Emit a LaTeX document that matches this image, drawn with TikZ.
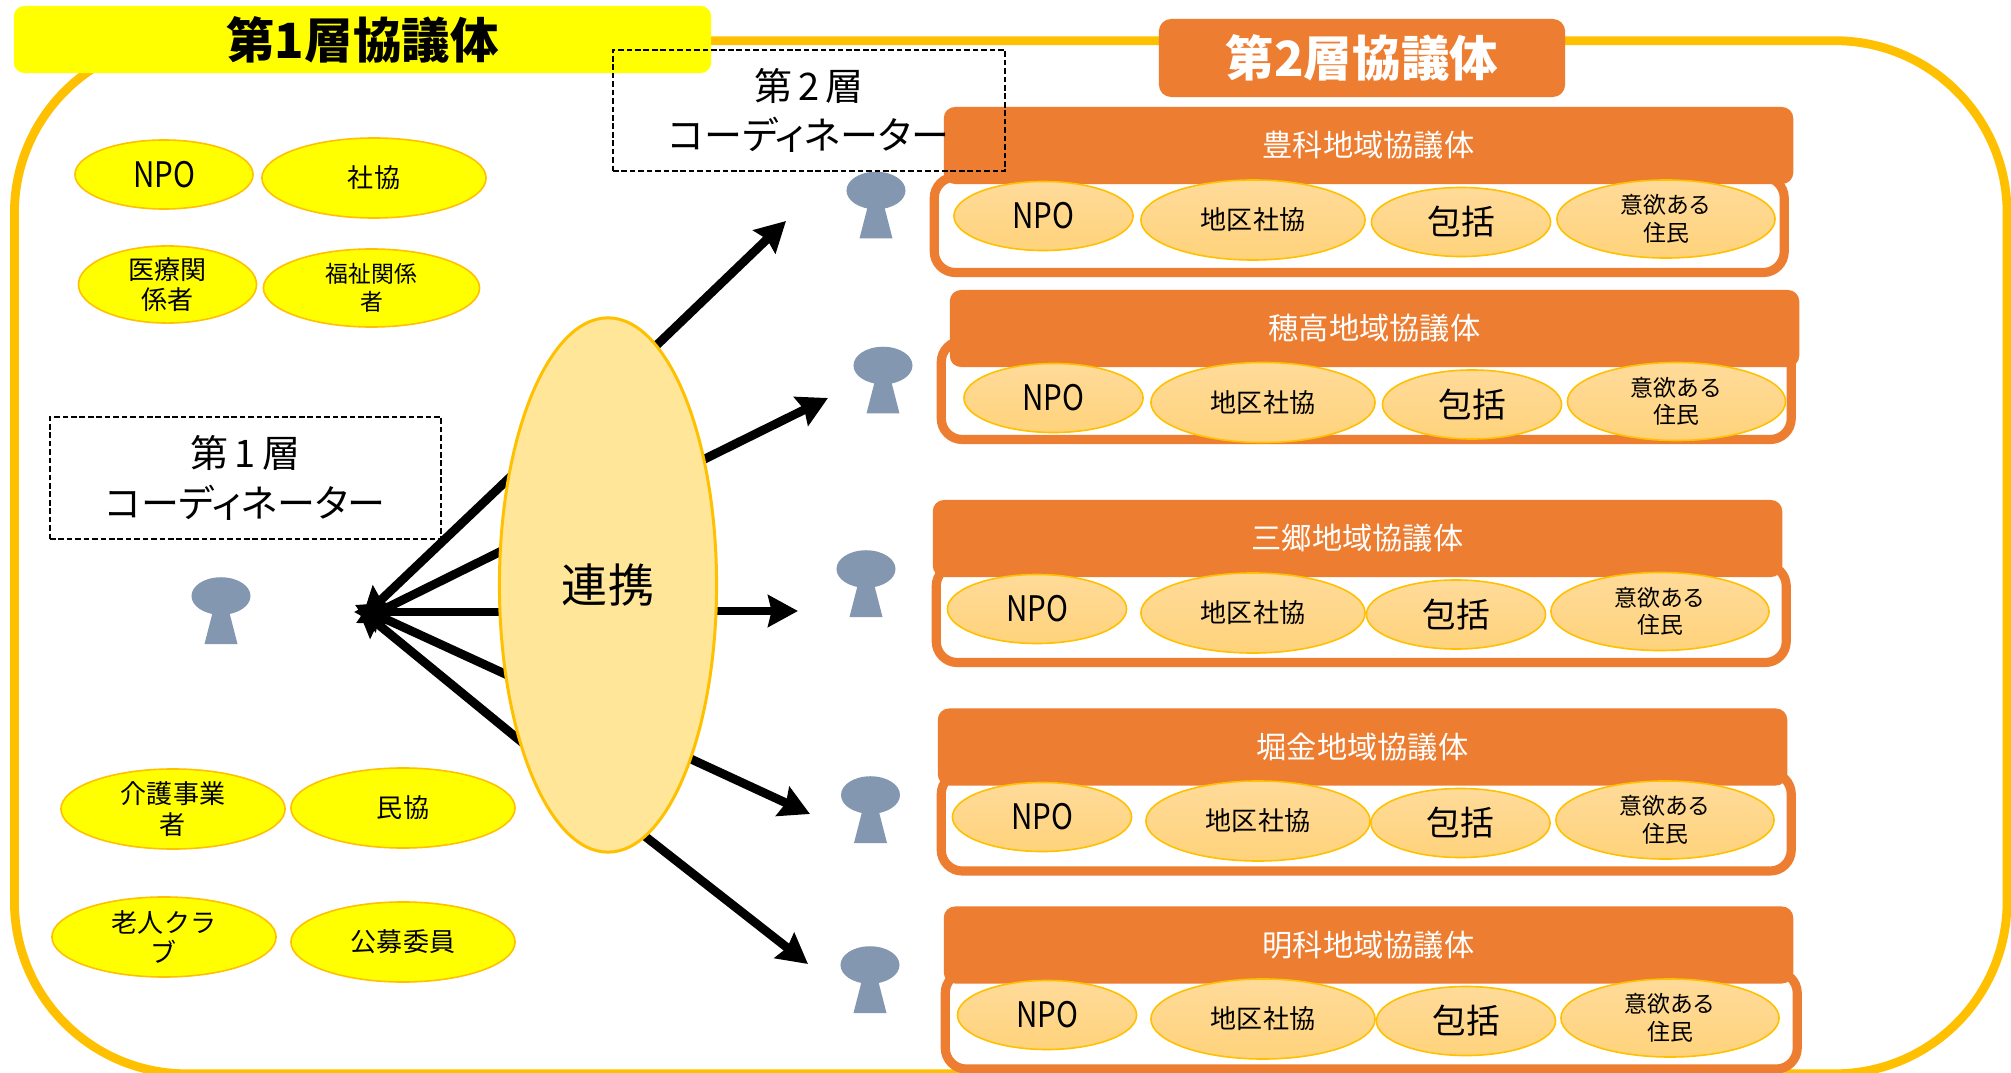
\documentclass[tikz,border=0pt]{standalone}
\usepackage{fontspec}
\usetikzlibrary{arrows.meta,shapes.geometric}
\setmainfont{Noto Sans CJK JP}
\newfontfamily\jp{Noto Sans CJK JP}
\newfontfamily\jpp[RawFeature=+palt]{Noto Sans CJK JP}
\newfontfamily\jpn[FakeStretch=0.84]{Noto Sans CJK JP}
\definecolor{gold}{HTML}{FFC000}
\definecolor{orng}{HTML}{ED7D31}
\definecolor{slate}{HTML}{8497B0}
\definecolor{cream}{HTML}{FFE699}
\definecolor{pureyellow}{HTML}{FFFF00}
\definecolor{creamtop}{HTML}{FFDB9A}
\definecolor{creambot}{HTML}{FFD37C}
\tikzset{
  every node/.style={inner sep=0pt,outer sep=0pt},
  outerframe/.style={draw=gold,line width=2.5pt,fill=white,rounded corners=49pt},
  titleyellow/.style={fill=pureyellow,rounded corners=3pt,font=\jp\bfseries\fontsize{13.8}{16}\selectfont},
  titleorange/.style={fill=orng,rounded corners=3.5pt,text=white,font=\jp\bfseries\fontsize{13.8}{16}\selectfont},
  groupframe/.style={draw=orng,line width=2.6pt,fill=white,rounded corners=6pt},
  grouphead/.style={fill=orng,rounded corners=3.2pt,text=white,font=\jp\fontsize{8.6}{10}\selectfont},
  ovalshape/.style={ellipse,align=center},
  yellowoval/.style={ovalshape,draw=gold,line width=0.45pt,fill=pureyellow},
  creamoval/.style={ovalshape,draw=gold,line width=0.45pt,top color=creamtop,bottom color=creambot},
  bigoval/.style={ovalshape,draw=gold,line width=0.85pt,fill=cream,font=\jp\fontsize{13.1}{15}\selectfont},
  tnpo/.style={font=\jpn\fontsize{10}{12}\selectfont},
  tsm/.style={font=\jp\fontsize{7.4}{8.7}\selectfont},
  txs/.style={font=\jp\fontsize{6.5}{7.8}\selectfont},
  tlg/.style={font=\jp\fontsize{9.6}{11}\selectfont},
  dashbox/.style={draw=black,line width=0.45pt,dash pattern=on 1.6pt off 0.8pt},
  coordtext/.style={align=center,font=\jpp\fontsize{10.8}{14}\selectfont},
  linker/.style={draw=black,line width=2.5pt,-{Stealth[length=8.5pt,width=9pt,inset=1pt]}},
  personfill/.style={fill=slate},
}
% box from corners (px)
\newcommand\pxbox[7]{\node[#2,minimum width={(#5-#3)*0.28453pt},minimum height={(#6-#4)*0.28453pt}] (#1) at ({(#3+#5)/2},{(#4+#6)/2}) {#7};}
% oval from centre and radii (px)
\newcommand\pxoval[7]{\node[#2,minimum width={2*#5*0.28453pt},minimum height={2*#6*0.28453pt}] (#1) at (#3,#4) {#7};}
\newcommand\person[3]{%
  \fill[personfill] (#2-8,#3+15) -- (#2+8,#3+15) -- (#2+16.5,#3+48) -- (#2-16.5,#3+48) -- cycle;
  \node[ellipse,personfill,minimum width={59*0.28453pt},minimum height={37.5*0.28453pt}] (#1) at (#2,#3) {};}
% name, title, frame x0 y0 x1 y1, head x0 y0, then four centres
\newcommand\grp[9]{%
  \pxbox{#1f}{groupframe}{#3}{#4}{#5}{#6}{}
  \pxbox{#1h}{grouphead}{#7}{#8}{#7+849}{#8+77}{#2}
  \def\gname{#1}\grpB#9}
\newcommand\grpB[8]{%
  \pxoval{\gname a}{creamoval,tnpo}{#1}{#2}{89.5}{34.5}{NPO}
  \pxoval{\gname b}{creamoval,tsm}{#3}{#4}{112}{40}{地区社協}
  \pxoval{\gname c}{creamoval,tlg}{#5}{#6}{89.5}{34.5}{包括}
  \pxoval{\gname d}{creamoval,txs}{#7}{#8}{109}{39}{意欲ある\\住民}}
\begin{document}
\begin{tikzpicture}[x=0.01cm,y=-0.01cm]
\useasboundingbox (0,0) rectangle (2011,1073);
\fill[white] (0,0) rectangle (2011,1073);
\pxbox{outer}{outerframe}{15}{41}{2006.5}{1073.5}{}
\pxbox{t1}{titleyellow}{14}{6}{711}{73}{第1層協議体}
\pxbox{t2}{titleorange}{1159}{19}{1565}{97}{第2層協議体}

\grp{ga}{豊科地域協議体}{934.5}{177}{1784}{272.5}{944}{107}{{1043.5}{216}{1253}{220}{1461}{222}{1666}{219}}
\grp{gb}{穂高地域協議体}{941.5}{341}{1791}{439.5}{950}{290}{{1053.5}{398}{1263}{402.5}{1472}{404.5}{1676.5}{401.5}}
\grp{gc}{三郷地域協議体}{936.5}{565}{1786}{662.5}{933}{500}{{1037}{609}{1253}{613}{1456}{614.5}{1660}{611.5}}
\grp{gd}{堀金地域協議体}{941.5}{773}{1791}{871}{938}{708.5}{{1042}{817}{1258}{821}{1460.5}{823}{1665}{820}}
\grp{ge}{明科地域協議体}{945.5}{972}{1797}{1069}{944}{906.5}{{1047}{1015}{1263}{1019}{1466}{1021}{1670}{1018}}

\person{p0}{221}{596}
\person{p1}{876}{190.5}
\person{p2}{883}{365.5}
\person{p3}{866}{569}
\person{p4}{870.5}{795}
\person{p5}{870}{965}

\coordinate (hub1) at (362,618);
\coordinate (hub2) at (356,623);
\coordinate (hub3) at (354,612);
\coordinate (hub4) at (355,605);
\coordinate (hub5) at (357,607);
\coordinate (ls1) at (545,444);
\coordinate (ls2) at (540,532);
\coordinate (ls3) at (540,612);
\coordinate (ls4) at (540,690);
\coordinate (ls5) at (540,757);
\coordinate (rs1) at (610,390);
\coordinate (rs2) at (640,491);
\coordinate (rs3) at (640,611);
\coordinate (rs4) at (640,735.5);
\coordinate (rs5) at (600,801);
\coordinate (rt1) at (786,221);
\coordinate (rt2) at (828,398);
\coordinate (rt3) at (798,611);
\coordinate (rt4) at (810,814);
\coordinate (rt5) at (808,964);
\foreach \i in {1,...,5} {
  \draw[linker] (ls\i) -- (hub\i);
  \draw[linker] (rs\i) -- (rt\i);
}
\pxoval{link}{bigoval}{608}{585}{108.5}{267}{連携}

\pxoval{y1}{yellowoval,tnpo}{164}{174.5}{89}{34.5}{NPO}
\pxoval{y2}{yellowoval,tsm}{374}{178}{112}{40}{社協}
\pxoval{y3}{yellowoval,tsm}{167.5}{284.5}{89}{34.5}{医療関\\係者}
\pxoval{y4}{yellowoval,txs}{371.5}{288}{108}{39}{福祉関係\\者}
\pxoval{y5}{yellowoval,tsm}{173}{809}{112}{40}{介護事業\\者}
\pxoval{y6}{yellowoval,tsm}{403}{808}{112}{40}{民協}
\pxoval{y7}{yellowoval,tsm}{164}{937}{112}{40}{老人クラ\\ブ}
\pxoval{y8}{yellowoval,tsm}{403}{942}{112}{40}{公募委員}

\pxbox{c1}{dashbox,coordtext}{50}{417}{441}{539}{第\,1\,層\\コーディネーター}
\pxbox{c2}{dashbox,coordtext}{613}{50}{1005}{171}{第\,2\,層\\コーディネーター}
\end{tikzpicture}
\end{document}
